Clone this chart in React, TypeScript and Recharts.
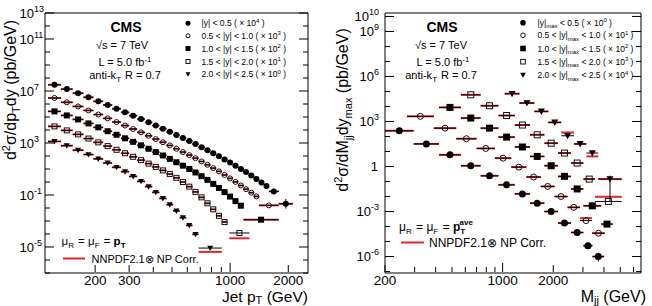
import React from 'react';
import { ComposedChart, Scatter, XAxis, YAxis, ErrorBar } from 'recharts';

const FONT = '"Liberation Sans", Arial, Helvetica, sans-serif';
const RED = '#e3242b';

// ---------- left panel: inclusive jet pT spectra ----------
const ptEdges = [114, 133, 153, 174, 196, 220, 245, 272, 300, 330, 362, 395, 430, 468, 507, 548, 592, 638, 686, 737, 790, 846, 905, 967, 1032, 1101, 1172, 1248, 1327, 1410, 1497, 1588, 1784];
// the last bin of every rapidity slice is a merged one
const jetLastBin = [[1784, 2116], [1410, 1784], [1172, 1784], [990, 1260], [686, 905]];
const jetLabels = ['|y| < 0.5', '0.5 < |y| < 1.0', '1.0 < |y| < 1.5', '1.5 < |y| < 2.0', '2.0 < |y| < 2.5'];
const jetScale = [4, 3, 2, 1, 0];

const jetY0 = [3.0e7, 1.4e7, 6.8e6, 3.3e6, 1.6e6, 8.3e5, 4.3e5, 2.3e5, 1.26e5, 6.9e4, 3.9e4, 2.2e4, 1.26e4, 7.2e3, 4.2e3, 2.4e3, 1.41e3, 830, 480, 280, 160, 95, 55, 32, 18, 10, 5.8, 3.2, 1.7, 0.93, 0.49, 0.19, 0.021];
const jetY1 = [2.9e6, 1.35e6, 6.5e5, 3.2e5, 1.55e5, 7.9e4, 4.1e4, 2.2e4, 1.2e4, 6.6e3, 3.6e3, 2.0e3, 1.15e3, 650, 360, 200, 117, 68, 38, 21, 11.7, 6.6, 3.5, 1.9, 1.02, 0.54, 0.28, 0.15, 0.078, 0.016];
const jetY2 = [2.7e5, 1.32e5, 6.5e4, 3.2e4, 1.6e4, 8.1e3, 4.3e3, 2.3e3, 1.23e3, 660, 360, 200, 110, 60, 33, 18, 10, 5.4, 2.8, 1.45, 0.72, 0.35, 0.166, 0.076, 0.034, 0.015, 1.26e-3];
const jetY3 = [1.9e4, 9.3e3, 4.6e3, 2.2e3, 1.12e3, 575, 300, 162, 87, 48, 26, 14.5, 7.8, 4.1, 2.1, 1.0, 0.44, 0.174, 0.066, 0.023, 7.9e-3, 2.5e-3, 8.3e-4, 1.2e-4];
const jetY4 = [1.32e3, 620, 280, 129, 60, 29, 13.5, 6.2, 2.7, 1.12, 0.44, 0.16, 0.055, 0.018, 6.0e-3, 1.8e-3, 4.6e-4, 9.5e-5, 8.3e-6];
// theory (NNPDF2.1 x NP) equals the data level except where listed
const jetTheoryFix: Record<number, number>[] = [{}, {}, {}, { 23: 4.7e-5 }, { 18: 4.2e-6 }];
const jetErrFix: Record<number, [number, number]>[] = [{ 32: [0.012, 0.029] }, {}, {}, {}, {}];

const jetXTicks = [200, 300, 400, 500, 600, 700, 800, 900, 1000, 2000];
const jetXLabels = [200, 300, 1000, 2000];
const jetYTicks = [1e-7, 1e-6, 1e-5, 1e-4, 1e-3, 1e-2, 1e-1, 1, 1e1, 1e2, 1e3, 1e4, 1e5, 1e6, 1e7, 1e8, 1e9, 1e10, 1e11, 1e12, 1e13];
const jetYLabels = [-5, -1, 3, 7, 11, 13];

// ---------- right panel: dijet mass spectra ----------
const mjjEdges = [
  [200, 296, 419, 565, 740, 944, 1181, 1455, 1770, 2132, 2546, 3019, 3416, 4010],
  [270, 390, 530, 700, 900, 1125, 1383, 1687, 2035, 2430, 2881, 3402, 4046],
  [419, 565, 740, 944, 1181, 1455, 1770, 2132, 2546, 3019, 3854, 4510],
  [565, 740, 944, 1181, 1455, 1770, 2132, 2546, 3019, 3540, 5100],
  [1029, 1258, 1544, 1869, 2227, 2654, 3144, 3700, 5100],
];
const mjjLabelLo = ['', '0.5 < ', '1.0 < ', '1.5 < ', '2.0 < '];
const mjjLabelHi = [' < 0.5', ' < 1.0', ' < 1.5', ' < 2.0', ' < 2.5'];
const mjjScale = [0, 1, 2, 3, 4];

const mjjY0 = [240, 32, 6.0, 1.12, 0.24, 0.060, 0.015, 3.6e-3, 1.0e-3, 1.7e-4, 4.0e-5, 5.2e-6, 1.0e-6];
const mjjY1 = [2200, 360, 71, 16, 3.6, 0.91, 0.20, 0.047, 0.010, 1.9e-3, 2.5e-4, 3.6e-5];
const mjjY2 = [8700, 1700, 360, 91, 20, 4.7, 1.12, 0.22, 0.032, 2.4e-3, 1.45e-4];
const mjjY3 = [6.0e4, 1.12e4, 2500, 580, 130, 36, 7.9, 1.7, 0.145, 4.7e-3];
const mjjY4 = [7.1e4, 1.7e4, 4700, 870, 112, 32, 7.9, 0.145];
const mjjTheoryFix: Record<number, number>[] = [{}, { 10: 3.6e-4 }, {}, { 9: 9.6e-3 }, { 4: 186, 6: 4.7 }];
const mjjErrFix: Record<number, [number, number]>[] = [{ 12: [5.3e-7, 8e-7] }, {}, {}, {}, { 7: [0.14, 0.1] }];

const mjjXTicks = [200, 300, 400, 500, 600, 700, 800, 900, 1000, 2000, 3000, 4000, 5000, 6000];
const mjjXLabels = [200, 1000, 2000];
const mjjYTicks = [1e-7, 1e-6, 1e-5, 1e-4, 1e-3, 1e-2, 1e-1, 1, 1e1, 1e2, 1e3, 1e4, 1e5, 1e6, 1e7, 1e8, 1e9, 1e10];
const mjjYLabels = [-6, -3, 0, 3, 6, 9, 10];

const markerKinds = ['circle', 'circleOpen', 'square', 'squareOpen', 'triangle'];

type Row = { x: number; y: number; th: number; xerr: [number, number]; yerr: [number, number] };

function buildRows(lo: number[], hi: number[], vals: number[], thFix: Record<number, number>, errFix: Record<number, [number, number]>): Row[] {
  return vals.map((v, i) => {
    const x = Math.sqrt(lo[i] * hi[i]);
    return { x, y: v, th: thFix[i] ?? v, xerr: [x - lo[i], hi[i] - x], yerr: errFix[i] ?? [0, 0] };
  });
}

const jetRows = [jetY0, jetY1, jetY2, jetY3, jetY4].map((vals, s) => {
  const n = vals.length;
  const lo = vals.map((_, i) => (i === n - 1 ? jetLastBin[s][0] : ptEdges[i]));
  const hi = vals.map((_, i) => (i === n - 1 ? jetLastBin[s][1] : ptEdges[i + 1]));
  return buildRows(lo, hi, vals, jetTheoryFix[s], jetErrFix[s]);
});

const mjjRows = [mjjY0, mjjY1, mjjY2, mjjY3, mjjY4].map((vals, s) => {
  const e = mjjEdges[s];
  return buildRows(e.slice(0, -1), e.slice(1), vals, mjjTheoryFix[s], mjjErrFix[s]);
});

function Marker({ kind, cx, cy, s }: { kind: string; cx: number; cy: number; s: number }) {
  if (kind === 'circle') return <circle cx={cx} cy={cy} r={s} fill="#000" />;
  if (kind === 'circleOpen') return <circle cx={cx} cy={cy} r={s - 0.5} fill="none" stroke="#111" strokeWidth={1} />;
  if (kind === 'square') return <rect x={cx - s} y={cy - s} width={2 * s} height={2 * s} fill="#000" />;
  if (kind === 'squareOpen')
    return <rect x={cx - s + 0.5} y={cy - s + 0.5} width={2 * s - 1} height={2 * s - 1} fill="none" stroke="#111" strokeWidth={1} />;
  return <polygon points={`${cx - s},${cy - s * 0.8} ${cx + s},${cy - s * 0.8} ${cx},${cy + s}`} fill="#000" />;
}

// axes are 1px thick (recharts skips 0-sized axes); bottom ticks arrive 1px below the frame
const xTick = (labels: number[], side: 'bottom' | 'top') => (props: any) => {
  const { x, payload } = props;
  const y = side === 'bottom' ? props.y - 1 : props.y;
  const v = payload.value;
  const len = v === 1000 ? 9 : labels.includes(v) ? 7 : 5;
  const dir = side === 'bottom' ? -1 : 1;
  return (
    <g>
      <line x1={x} x2={x} y1={y} y2={y + dir * len} stroke="#000" />
      {side === 'bottom' && labels.includes(v) && (
        <text x={x} y={y + 13} textAnchor="middle" fontSize={13.5} fontFamily={FONT} fill="#000">
          {v}
        </text>
      )}
    </g>
  );
};

const yTick = (labels: number[], side: 'left' | 'right', style: 'split' | 'whole') => (props: any) => {
  const { x, y, payload } = props;
  const e = Math.round(Math.log10(payload.value));
  const major = labels.includes(e);
  const dir = side === 'left' ? 1 : -1;
  const len = major ? 9 : 5;
  let label = null;
  if (side === 'left' && major) {
    if (e === 0) {
      label = (
        <text x={x - 7} y={y + 4.5} textAnchor="end" fontSize={13} fontFamily={FONT}>1</text>
      );
    } else if (style === 'split') {
      label = (
        <g fontFamily={FONT}>
          <text x={x - 11} y={y + 4.5} textAnchor="end" fontSize={13}>10</text>
          <text x={x - 11} y={y - 1.5} fontSize={9}>{e}</text>
        </g>
      );
    } else {
      label = (
        <text x={x - 6} y={y + 4.5} textAnchor="end" fontSize={13} fontFamily={FONT}>
          10<tspan dy={-6} fontSize={9}>{e}</tspan>
        </text>
      );
    }
  }
  return (
    <g>
      <line x1={x} x2={x + dir * len} y1={y} y2={y} stroke="#000" />
      {label}
    </g>
  );
};

type PanelProps = {
  rows: Row[][];
  margin: { top: number; right: number; bottom: number; left: number };
  xDomain: [number, number];
  yDomain: [number, number];
  xTicks: number[];
  xLabels: number[];
  yTicks: number[];
  yLabels: number[];
  yStyle: 'split' | 'whole';
  size: number;
};

function Panel({ rows, margin, xDomain, yDomain, xTicks, xLabels, yTicks, yLabels, yStyle, size }: PanelProps) {
  const axisLine = { stroke: '#000', strokeWidth: 1 };
  return (
    <ComposedChart width={326} height={306} margin={margin}>
      <XAxis dataKey="x" type="number" scale="log" domain={xDomain} allowDataOverflow ticks={xTicks} interval={0}
        tickLine={false} tickSize={0} tickMargin={0} height={1} axisLine={axisLine} tick={xTick(xLabels, 'bottom')} />
      <XAxis xAxisId="top" orientation="top" type="number" scale="log" domain={xDomain} allowDataOverflow ticks={xTicks}
        interval={0} tickLine={false} tickSize={0} tickMargin={0} height={1} axisLine={axisLine} tick={xTick(xLabels, 'top')} />
      <YAxis type="number" scale="log" domain={yDomain} allowDataOverflow ticks={yTicks} interval={0} tickLine={false}
        tickSize={0} tickMargin={0} width={1} axisLine={axisLine} tick={yTick(yLabels, 'left', yStyle)} />
      <YAxis yAxisId="right" orientation="right" type="number" scale="log" domain={yDomain} allowDataOverflow ticks={yTicks}
        interval={0} tickLine={false} tickSize={0} tickMargin={0} width={1} axisLine={axisLine} tick={yTick(yLabels, 'right', yStyle)} />
      {rows.map((r, s) => (
        <Scatter key={`th${s}`} data={r} dataKey="th" isAnimationActive={false} shape={() => <g />}>
          <ErrorBar dataKey="xerr" direction="x" width={0} stroke={RED} strokeWidth={2} isAnimationActive={false} />
        </Scatter>
      ))}
      {rows.map((r, s) => (
        <Scatter key={`d${s}`} data={r} dataKey="y" isAnimationActive={false}
          shape={(p: any) => <Marker kind={markerKinds[s]} cx={p.cx} cy={p.cy} s={size} />}>
          <ErrorBar dataKey="xerr" direction="x" width={0} stroke="#000" strokeWidth={1} isAnimationActive={false} />
          <ErrorBar dataKey="yerr" direction="y" width={0} stroke="#000" strokeWidth={1} isAnimationActive={false} />
        </Scatter>
      ))}
    </ComposedChart>
  );
}

const sub = (t: string, size = 8) => (
  <>
    <tspan dy={3} fontSize={size}>{t}</tspan>
    <tspan dy={-3}>{'\u200a'}</tspan>
  </>
);

function Overlay() {
  const jetLegY = [23.3, 35.8, 48.5, 61.5, 74.3];
  const mjjLegY = [22.7, 35.3, 48.5, 61.7, 75];
  return (
    <svg width={652} height={306} style={{ position: 'absolute', left: 0, top: 0, pointerEvents: 'none' }} fontFamily={FONT}>
      {/* left panel text */}
      <text x={126} y={31.5} textAnchor="middle" fontSize={14} fontWeight="bold">CMS</text>
      <text x={122} y={49} textAnchor="middle" fontSize={11}>√s = 7 TeV</text>
      <text x={125} y={65.5} textAnchor="middle" fontSize={11}>
        L = 5.0 fb<tspan dy={-4} fontSize={8}>-1</tspan>
      </text>
      <text x={125} y={78.5} textAnchor="middle" fontSize={11}>
        anti-k{sub('T')} R = 0.7
      </text>
      {jetLabels.map((lab, i) => (
        <g key={lab}>
          <Marker kind={markerKinds[i]} cx={188} cy={jetLegY[i]} s={2.5} />
          <text x={201.5} y={jetLegY[i] + 3} fontSize={8.5}>
            {lab} ( × 10<tspan dy={-3.5} fontSize={6}>{jetScale[i]}</tspan>
            <tspan dy={3.5}> )</tspan>
          </text>
        </g>
      ))}
      <text x={61.5} y={245} fontSize={11.5}>
        μ{sub('R')} = μ{sub('F')} = <tspan fontWeight="bold">p</tspan>
        <tspan dy={3} fontSize={8} fontWeight="bold">T</tspan>
      </text>
      <line x1={63} x2={85} y1={258.5} y2={258.5} stroke={RED} strokeWidth={2} />
      <text x={91.5} y={262.5} fontSize={11}>NNPDF2.1⊗ NP Corr.</text>
      <text transform="translate(16,90) rotate(-90)" textAnchor="middle" fontSize={16}>
        d<tspan dy={-6} fontSize={11}>2</tspan>
        <tspan dy={6}>σ/dp</tspan>
        <tspan dy={4} fontSize={11}>T</tspan>
        <tspan dy={-4}>dy (pb/GeV)</tspan>
      </text>
      <text x={308} y={301.5} textAnchor="end" fontSize={15.5}>
        Jet p<tspan dy={2.5} fontSize={11}>T</tspan>
        <tspan dy={-2.5}> (GeV)</tspan>
      </text>

      {/* right panel text */}
      <text x={442} y={32} textAnchor="middle" fontSize={14} fontWeight="bold">CMS</text>
      <text x={441} y={49} textAnchor="middle" fontSize={11}>√s = 7 TeV</text>
      <text x={443} y={65.5} textAnchor="middle" fontSize={11}>
        L = 5.0 fb<tspan dy={-4} fontSize={8}>-1</tspan>
      </text>
      <text x={441} y={78.5} textAnchor="middle" fontSize={11}>
        anti-k{sub('T')} R = 0.7
      </text>
      {mjjLabelLo.map((lo, i) => (
        <g key={i}>
          <Marker kind={markerKinds[i]} cx={523} cy={mjjLegY[i]} s={2.8} />
          <text x={537.5} y={mjjLegY[i] + 3} fontSize={8.5}>
            {lo}|y|<tspan dy={2.5} fontSize={6}>max</tspan>
            <tspan dy={-2.5}>{mjjLabelHi[i]} ( × 10</tspan>
            <tspan dy={-3.5} fontSize={6}>{mjjScale[i]}</tspan>
            <tspan dy={3.5}> )</tspan>
          </text>
        </g>
      ))}
      <text x={399} y={231} fontSize={12}>
        μ{sub('R')} = μ{sub('F')} = <tspan fontWeight="bold">p</tspan>
        <tspan dy={3} fontSize={8} fontWeight="bold">T</tspan>
        <tspan dx={-5} dy={-9} fontSize={8} fontWeight="bold">ave</tspan>
      </text>
      <line x1={401} x2={424} y1={242.5} y2={242.5} stroke={RED} strokeWidth={2} />
      <text x={429} y={246.5} fontSize={12}>NNPDF2.1⊗ NP Corr.</text>
      <text transform="translate(348,110) rotate(-90)" textAnchor="middle" fontSize={16}>
        d<tspan dy={-6} fontSize={11}>2</tspan>
        <tspan dy={6}>σ/dM</tspan>
        <tspan dy={4} fontSize={11}>jj</tspan>
        <tspan dy={-4}>dy</tspan>
        <tspan dy={4} fontSize={11}>max</tspan>
        <tspan dy={-4}> (pb/GeV)</tspan>
      </text>
      <text x={646} y={301.5} textAnchor="end" fontSize={16}>
        M<tspan dy={2.5} fontSize={11}>jj</tspan>
        <tspan dy={-2.5}> (GeV)</tspan>
      </text>
    </svg>
  );
}

export default function App() {
  return (
    <div style={{ position: 'absolute', left: 0, top: 0, width: 652, height: 306, background: '#fff', fontFamily: FONT }}>
      <div style={{ position: 'absolute', left: 0, top: 0 }}>
        <Panel rows={jetRows} margin={{ top: 12, right: 17, bottom: 32, left: 44 }} xDomain={[110, 2530]} yDomain={[1e-7, 1e13]}
          xTicks={jetXTicks} xLabels={jetXLabels} yTicks={jetYTicks} yLabels={jetYLabels} yStyle="split" size={3} />
      </div>
      <div style={{ position: 'absolute', left: 326, top: 0 }}>
        <Panel rows={mjjRows} margin={{ top: 12, right: 10, bottom: 32, left: 58 }} xDomain={[200, 6640]} yDomain={[8e-8, 1.7e10]}
          xTicks={mjjXTicks} xLabels={mjjXLabels} yTicks={mjjYTicks} yLabels={mjjYLabels} yStyle="whole" size={3.5} />
      </div>
      <Overlay />
    </div>
  );
}
